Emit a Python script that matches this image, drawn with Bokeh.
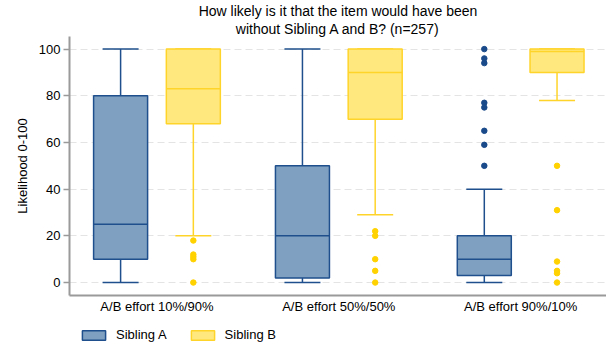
from bokeh.plotting import figure
from bokeh.layouts import column
from bokeh.models import (ColumnDataSource, Range1d, FixedTicker, Legend, LegendItem,
                          Title)
from bokeh.embed import file_html
from bokeh.resources import INLINE

# Categories and series
categories = ["A/B effort 10%/90%", "A/B effort 50%/50%", "A/B effort 90%/10%"]
siblings = ["Sibling A", "Sibling B"]

# Sibling A box statistics per category
a_low = [0, 0, 0]
a_q1 = [10, 2, 3]
a_med = [25, 20, 10]
a_q3 = [80, 50, 20]
a_high = [100, 100, 40]

# Sibling B box statistics per category
b_low = [20, 29, 78]
b_q1 = [68, 70, 90]
b_med = [83, 90, 99]
b_q3 = [100, 100, 100]
b_high = [100, 100, 100]

# Outside values: category index and value
a_out_cat = [2, 2, 2, 2, 2, 2, 2, 2]
a_out_val = [100, 96, 94, 77, 75, 65, 59, 50]
b_out_cat = [0, 0, 0, 0, 0, 1, 1, 1, 1, 1, 2, 2, 2, 2, 2, 2]
b_out_val = [18, 12, 11, 10, 0, 22, 20, 10, 5, 0, 50, 31, 9, 5, 4, 0]

y_ticks = [0, 20, 40, 60, 80, 100]

FONT = "Liberation Sans"
BLUE_EDGE = "#1f4f8c"
BLUE_FILL = "#7fa0c0"
BLUE_DOT = "#1a4a8a"
GOLD_EDGE = "#ffd42a"
GOLD_FILL = "#ffe87e"
GOLD_DOT = "#ffd200"

OFFSET = 0.2
BOX_W = 0.297
CAP_W = 0.198

p = figure(frame_width=537, frame_height=259,
           x_range=Range1d(-0.481, 2.472), y_range=Range1d(-5.55, 105.4),
           output_backend="svg", toolbar_location=None,
           min_border_left=69, min_border_right=0, min_border_top=36,
           min_border_bottom=0)
p.outline_line_color = None
p.background_fill_color = "white"
p.border_fill_color = "white"

title_lines = ["How likely is it that the item would have been",
               "without Sibling A and B? (n=257)"]
for line in reversed(title_lines):
    p.add_layout(Title(text=line, align="center", text_font=FONT,
                       text_font_size="14px", text_font_style="normal",
                       text_color="black", standoff=0, offset=0), "above")

# grid
p.xgrid.visible = False
p.ygrid.ticker = FixedTicker(ticks=y_ticks)
p.ygrid.grid_line_color = "#e4e4e4"
p.ygrid.grid_line_dash = "7 4"
p.ygrid.grid_line_width = 1.2

# axes
p.yaxis.ticker = FixedTicker(ticks=y_ticks)
p.yaxis.axis_label = "Likelihood 0-100"
p.yaxis.axis_label_text_font = FONT
p.yaxis.axis_label_text_font_size = "13px"
p.yaxis.axis_label_text_font_style = "normal"
p.yaxis.axis_label_standoff = 6
p.yaxis.major_label_text_font = FONT
p.yaxis.major_label_text_font_size = "13px"
p.yaxis.major_label_standoff = 3
p.yaxis.major_tick_out = 6
p.yaxis.major_tick_in = 0
p.yaxis.minor_tick_line_color = None

p.xaxis.ticker = FixedTicker(ticks=list(range(len(categories))))
p.xaxis.major_label_overrides = {i: c for i, c in enumerate(categories)}
p.xaxis.major_label_text_font = FONT
p.xaxis.major_label_text_font_size = "13px"
p.xaxis.major_label_standoff = -3
p.xaxis.major_tick_line_color = None
p.xaxis.minor_tick_line_color = None

for ax in (p.xaxis, p.yaxis):
    ax.axis_line_color = "#9a9a9a"
    ax.axis_line_width = 2
    ax.major_label_text_color = "black"
    ax.axis_label_text_color = "black"
p.yaxis.major_tick_line_color = "#9a9a9a"
p.yaxis.major_tick_line_width = 1.5


def draw_series(fig, low, q1, med, q3, high, out_cat, out_val, shift, edge, fill, dot):
    xs = [i + shift for i in range(len(categories))]
    src = ColumnDataSource(dict(x=xs, low=low, q1=q1, med=med, q3=q3, high=high,
                                cl=[x - CAP_W / 2 for x in xs],
                                cr=[x + CAP_W / 2 for x in xs],
                                bl=[x - BOX_W / 2 for x in xs],
                                br=[x + BOX_W / 2 for x in xs]))
    # whiskers and caps
    fig.segment("x", "q3", "x", "high", source=src, line_color=edge, line_width=1.5)
    fig.segment("x", "low", "x", "q1", source=src, line_color=edge, line_width=1.5)
    fig.segment("cl", "high", "cr", "high", source=src, line_color=edge, line_width=1.5)
    fig.segment("cl", "low", "cr", "low", source=src, line_color=edge, line_width=1.5)
    # box and median
    fig.vbar(x="x", bottom="q1", top="q3", width=BOX_W, source=src,
             fill_color=fill, line_color=edge, line_width=1.5)
    fig.segment("bl", "med", "br", "med", source=src, line_color=edge, line_width=1.5)
    # outside values
    osrc = ColumnDataSource(dict(x=[c + shift for c in out_cat], y=out_val))
    fig.scatter("x", "y", source=osrc, size=5.5, fill_color=dot, line_color=dot)


draw_series(p, a_low, a_q1, a_med, a_q3, a_high, a_out_cat, a_out_val,
            -OFFSET, BLUE_EDGE, BLUE_FILL, BLUE_DOT)
draw_series(p, b_low, b_q1, b_med, b_q3, b_high, b_out_cat, b_out_val,
            OFFSET, GOLD_EDGE, GOLD_FILL, GOLD_DOT)

# Legend strip underneath the chart; the swatch renderers sit outside the
# visible range so only their legend entries show.
leg_fig = figure(width=606, height=32, x_range=Range1d(0, 1), y_range=Range1d(0, 1),
                 output_backend="svg", toolbar_location=None,
                 x_axis_location=None, y_axis_location=None,
                 min_border=0, min_border_left=0, min_border_right=0,
                 min_border_top=0, min_border_bottom=0)
leg_fig.outline_line_color = None
leg_fig.xgrid.visible = False
leg_fig.ygrid.visible = False
proxy = ColumnDataSource(dict(x=[-5], bottom=[-5], top=[-4]))
sw_a = leg_fig.vbar(x="x", bottom="bottom", top="top", width=0.1, source=proxy,
                    fill_color=BLUE_FILL, line_color=BLUE_EDGE, line_width=1.5)
sw_b = leg_fig.vbar(x="x", bottom="bottom", top="top", width=0.1, source=proxy,
                    fill_color=GOLD_FILL, line_color=GOLD_EDGE, line_width=1.5)
legend = Legend(items=[LegendItem(label=siblings[0], renderers=[sw_a]),
                       LegendItem(label=siblings[1], renderers=[sw_b])],
                orientation="horizontal", location=(10, 6),
                glyph_width=29, glyph_height=12, label_height=12,
                label_standoff=8, spacing=21, padding=0, margin=0,
                label_text_font=FONT, label_text_font_size="13px",
                label_text_color="black",
                background_fill_alpha=0, border_line_color=None)
leg_fig.add_layout(legend, "center")

layout = column(p, leg_fig, spacing=0)
open("out.html", "w").write(file_html(layout, INLINE))
